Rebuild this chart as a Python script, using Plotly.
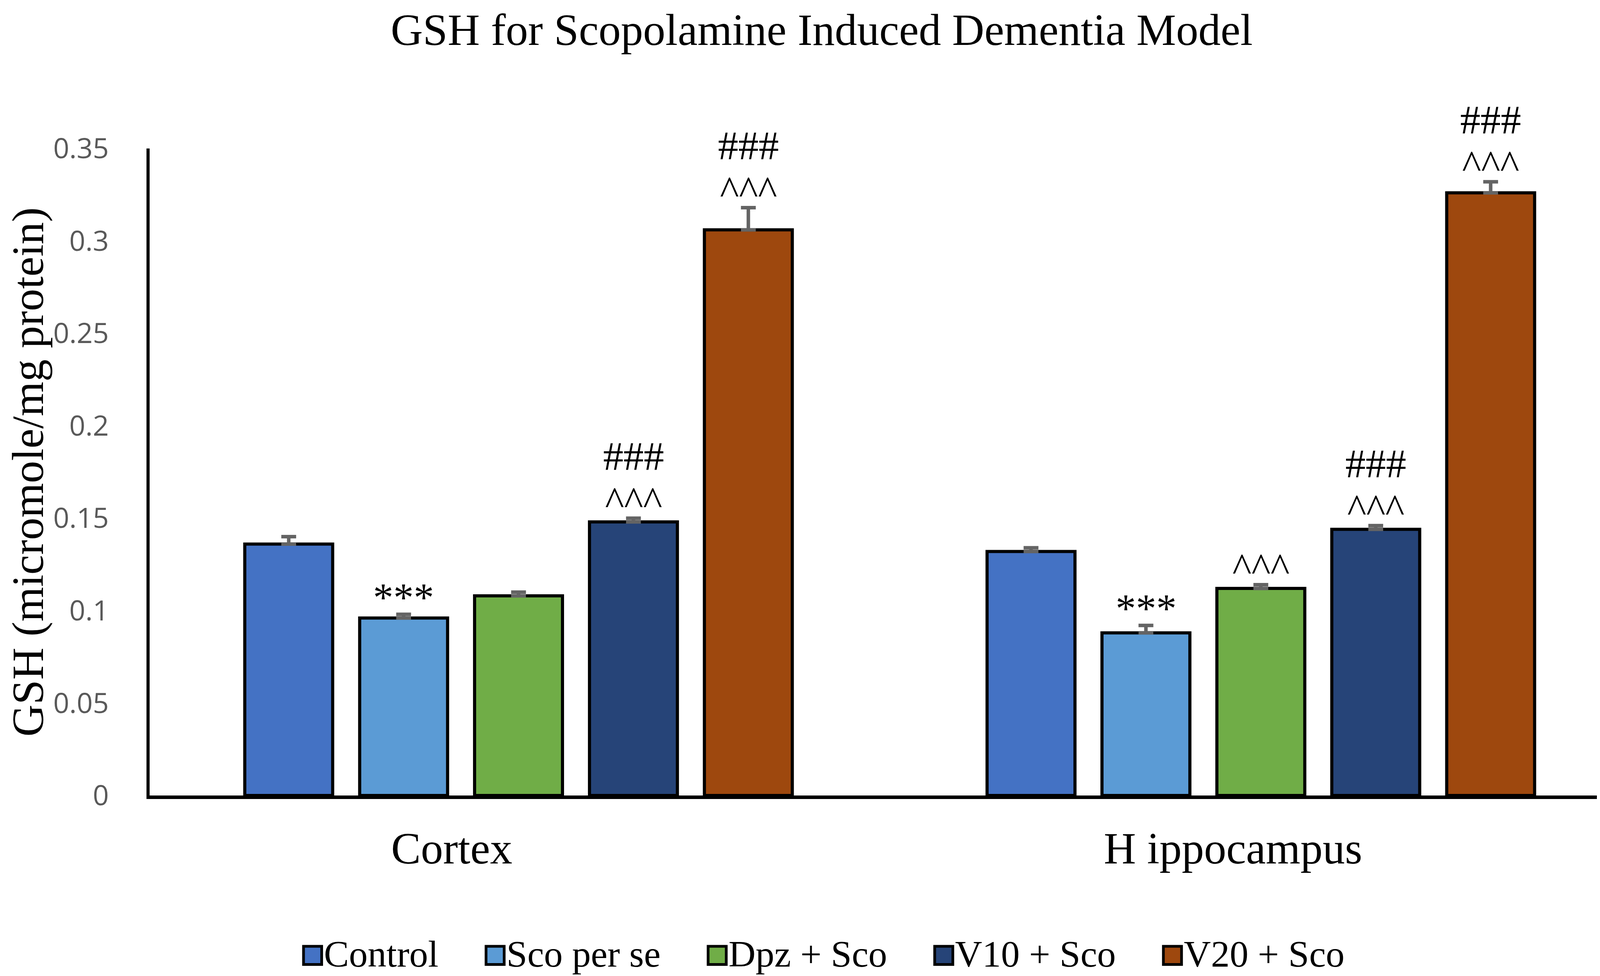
import plotly.graph_objects as go

regions = ['Cortex', 'H ippocampus']
groups = ['Control', 'Sco per se', 'Dpz + Sco', 'V10 + Sco', 'V20 + Sco']
colors = ['#4472C4', '#5B9BD5', '#70AD47', '#264478', '#9E480E']

cortex_gsh = [0.136, 0.096, 0.108, 0.148, 0.306]
cortex_sem = [0.004, 0.002, 0.002, 0.002, 0.012]
hippo_gsh = [0.132, 0.088, 0.112, 0.144, 0.326]
hippo_sem = [0.002, 0.004, 0.002, 0.002, 0.006]

# significance marks per bar, lowest line first
cortex_marks = [[], ['***'], [], ['^^^', '###'], ['^^^', '###']]
hippo_marks = [[], ['***'], ['^^^'], ['^^^', '###'], ['^^^', '###']]

y_tickvals = [0, 0.05, 0.1, 0.15, 0.2, 0.25, 0.3, 0.35]
y_ticktext = ['0', '0.05', '0.1', '0.15', '0.2', '0.25', '0.3', '0.35']

SERIF = 'Liberation Serif, Times New Roman, serif'
BARGAP = 0.226

# the category labels in the original sit left of the bar-group centres
label_pad = [12, 5]
x_ticktext = [r + '&nbsp;' * p for r, p in zip(regions, label_pad)]

fig = go.Figure()

for i, name in enumerate(groups):
    fig.add_trace(go.Bar(
        x=regions,
        y=[cortex_gsh[i], hippo_gsh[i]],
        name=name,
        showlegend=False,
        marker=dict(color=colors[i], line=dict(color='black', width=8)),
        error_y=dict(
            type='data',
            symmetric=False,
            array=[cortex_sem[i], hippo_sem[i]],
            arrayminus=[0, 0],
            color='#646464',
            thickness=9,
            width=19
        )
    ))

# legend entries: coloured square glyph in front of the name
for i, name in enumerate(groups):
    fig.add_trace(go.Scatter(
        x=[None], y=[None],
        mode='markers',
        marker=dict(color='rgba(0,0,0,0)', size=1),
        name='<span style="color:%s;stroke:#000;stroke-width:7px">■</span>%s' % (colors[i], name),
        showlegend=True
    ))

slot = (1 - BARGAP) / len(groups)
for r, (vals, errs, marks) in enumerate([(cortex_gsh, cortex_sem, cortex_marks),
                                        (hippo_gsh, hippo_sem, hippo_marks)]):
    for g in range(len(groups)):
        for k, m in enumerate(marks[g]):
            fig.add_annotation(
                x=r + (g - 2) * slot,
                y=vals[g] + errs[g],
                text=m,
                showarrow=False,
                yanchor='middle',
                yshift=44 + 116 * k,
                font=dict(family=SERIF, size=104, color='black')
            )

fig.update_layout(
    width=4225,
    height=2498,
    barmode='group',
    bargap=BARGAP,
    bargroupgap=0.235,
    plot_bgcolor='white',
    paper_bgcolor='white',
    margin=dict(l=375, r=0, t=372, b=458),
    title=dict(
        text='GSH for Scopolamine Induced Dementia Model',
        x=0.496, xref='container', xanchor='center',
        y=0.973, yref='container', yanchor='middle',
        font=dict(family=SERIF, size=114, color='black')
    ),
    xaxis=dict(
        type='category',
        range=[-0.497, 1.529],
        tickvals=regions,
        ticktext=x_ticktext,
        showline=True,
        linecolor='black',
        linewidth=9,
        showgrid=False,
        zeroline=False,
        ticks='',
        ticklabelstandoff=28,
        tickfont=dict(family=SERIF, size=114, color='black')
    ),
    yaxis=dict(
        range=[0, 0.35],
        tickvals=y_tickvals,
        ticktext=y_ticktext,
        showline=True,
        linecolor='black',
        linewidth=8,
        showgrid=False,
        zeroline=False,
        ticks='',
        ticklabelstandoff=82,
        tickfont=dict(family='Open Sans', size=72, color='#595959'),
        title=dict(
            text='GSH (micromole/mg protein)',
            standoff=40,
            font=dict(family=SERIF, size=114, color='black')
        )
    ),
    legend=dict(
        orientation='h',
        x=0.072, xanchor='left',
        y=-0.242, yanchor='middle',
        itemwidth=101,
        font=dict(family=SERIF + ', DejaVu Sans', size=96, color='black'),
        bgcolor='rgba(0,0,0,0)'
    )
)

fig.write_html('out.html')
